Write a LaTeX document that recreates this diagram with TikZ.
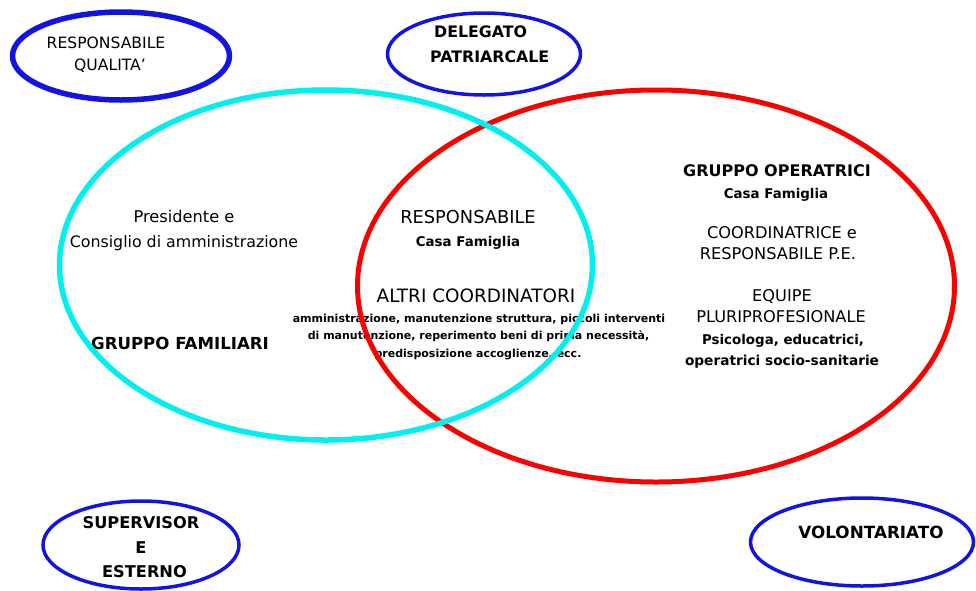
\documentclass[tikz,border=0pt]{standalone}
\usepackage{fontspec}
\setmainfont{DejaVu Sans}
\usetikzlibrary{shapes.geometric}
\definecolor{ringblue}{RGB}{20,20,225}
\definecolor{ringcyan}{RGB}{0,240,240}
\definecolor{ringred}{RGB}{250,0,0}
\begin{document}
\begin{tikzpicture}[x=1pt,y=-1pt,
  ring/.style={draw, ellipse, inner sep=0pt},
  nt/.style={inner sep=0pt, anchor=base, font=\fontsize{16.2}{19}\selectfont},
  bt/.style={inner sep=0pt, anchor=base, font=\fontsize{16.2}{19}\selectfont\bfseries},
  mt/.style={inner sep=0pt, anchor=base, font=\fontsize{13.4}{16}\selectfont\bfseries},
  st/.style={inner sep=0pt, anchor=base, font=\fontsize{11}{13}\selectfont\bfseries}]
\useasboundingbox[fill=white] (0,0) rectangle (976,590);

% small rings
\node[ring, draw=ringblue, line width=5.5pt, minimum width=217pt, minimum height=88pt] (rq) at (121,56) {};
\node[ring, draw=ringblue, line width=3.5pt, minimum width=193pt, minimum height=82pt] (dp) at (484,54) {};
\node[ring, draw=ringblue, line width=3.5pt, minimum width=196pt, minimum height=88pt] (se) at (141,545) {};
\node[ring, draw=ringblue, line width=3.5pt, minimum width=223pt, minimum height=88pt] (vo) at (862,542) {};

% texts
\node[nt, font=\fontsize{15.6}{18}\selectfont] (rq1) at (106,48.7) {RESPONSABILE};
\node[nt, font=\fontsize{15.6}{18}\selectfont] (rq2) at (110,70.7) {QUALITA'};
\node[bt, font=\fontsize{15.8}{18}\selectfont\bfseries, anchor=base west] (dp1) at (434,37.8) {DELEGATO};
\node[bt, font=\fontsize{15.8}{18}\selectfont\bfseries, anchor=base west] (dp2) at (430,62.8) {PATRIARCALE};
\node[bt] (se1) at (141,528) {SUPERVISOR};
\node[bt] (se2) at (141,553) {E};
\node[bt] (se3) at (144.5,577) {ESTERNO};
\node[bt, font=\fontsize{16.8}{19}\selectfont\bfseries] (vo1) at (871,538) {VOLONTARIATO};

\node[nt] (pr1) at (184,222) {Presidente e};
\node[nt, font=\fontsize{15.8}{19}\selectfont] (pr2) at (184,247.5) {Consiglio di amministrazione};
\node[bt, font=\fontsize{16.6}{19}\selectfont\bfseries] (gf) at (180,349) {GRUPPO FAMILIARI};

\node[nt, font=\fontsize{17.8}{21}\selectfont] (rc1) at (468,223.3) {RESPONSABILE};
\node[mt] (rc2) at (468,246.8) {Casa Famiglia};
\node[nt, font=\fontsize{18.4}{21}\selectfont] (ac) at (476,302.7) {ALTRI COORDINATORI};
\node[st] (ac1) at (479,322) {amministrazione, manutenzione struttura, piccoli interventi};
\node[st] (ac2) at (478.5,339.5) {di manutenzione, reperimento beni di prima necessità,};
\node[st] (ac3) at (478,357.5) {predisposizione accoglienze, ecc.};

\node[bt, font=\fontsize{16}{19}\selectfont\bfseries] (go1) at (777,176.5) {GRUPPO OPERATRICI};
\node[mt] (go2) at (776,198) {Casa Famiglia};
\node[nt] (co1) at (782,238) {COORDINATRICE e};
\node[nt] (co2) at (778,259) {RESPONSABILE P.E.};
\node[nt] (eq1) at (782,301) {EQUIPE};
\node[nt] (eq2) at (781,322) {PLURIPROFESIONALE};
\node[mt] (eq3) at (783,344) {Psicologa, educatrici,};
\node[mt, font=\fontsize{13.7}{16}\selectfont\bfseries] (eq4) at (782,365) {operatrici socio-sanitarie};

% big rings
\node[ring, draw=ringred, line width=5pt, minimum width=597pt, minimum height=392pt] (red) at (656,286) {};
\node[ring, draw=ringcyan, line width=5.5pt, minimum width=533pt, minimum height=350pt] (cyan) at (326,265) {};
\end{tikzpicture}
\end{document}
